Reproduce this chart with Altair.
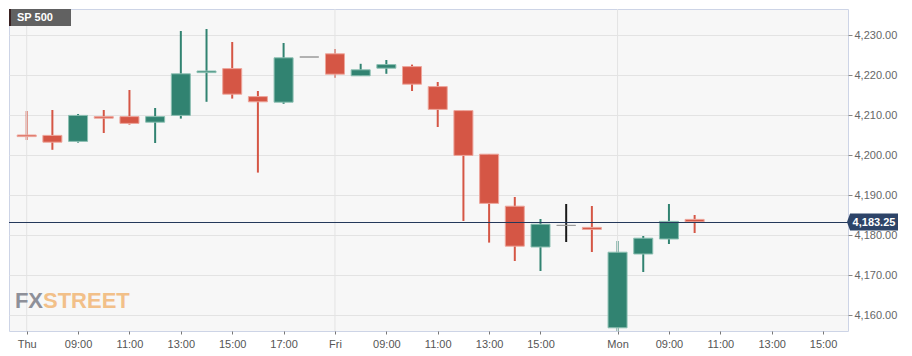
import altair as alt
import pandas as pd
import numpy as np

# ---- data (hourly candles, trading hours only) ----
opens  = [4237.25, 4205.0, 4204.9, 4203.4, 4209.6, 4209.6, 4208.2, 4209.9, 4220.6, 4221.6,
          4214.6, 4213.2, 4224.5, 4225.3, 4219.8, 4221.7, 4222.1, 4217.1, 4211.1, 4200.2,
          4187.2, 4177.0, 4182.4, 4181.9, 4156.8, 4175.25, 4179.0, 4183.9]
highs  = [4240.0, 4211.0, 4211.25, 4210.25, 4211.25, 4216.25, 4211.75, 4231.0, 4231.5, 4228.25,
          4216.0, 4228.0, 4224.5, 4226.5, 4222.8, 4223.75, 4222.6, 4218.25, 4211.1, 4200.2,
          4189.5, 4184.0, 4187.75, 4187.25, 4178.5, 4179.75, 4187.75, 4185.0]
lows   = [4228.0, 4203.75, 4201.3, 4203.1, 4205.5, 4207.6, 4203.0, 4209.1, 4213.3, 4214.1,
          4195.6, 4212.8, 4224.5, 4219.3, 4219.8, 4220.3, 4216.0, 4207.0, 4183.5, 4178.1,
          4173.5, 4171.0, 4178.25, 4175.75, 4156.0, 4170.75, 4177.75, 4180.5]
closes = [4233.5, 4204.6, 4203.2, 4209.9, 4209.2, 4207.9, 4209.6, 4220.3, 4221.0, 4215.2,
          4213.3, 4224.3, 4224.5, 4220.2, 4221.3, 4222.6, 4217.7, 4211.4, 4199.9, 4187.9,
          4177.2, 4182.7, 4182.4, 4181.4, 4175.7, 4179.2, 4183.4, 4183.3]
slots = list(range(len(opens)))

tick_pos    = [1, 3, 5, 7, 9, 11, 13, 15, 17, 19, 21, 24, 26, 28, 30, 32]
tick_labels = ["Thu", "09:00", "11:00", "13:00", "15:00", "17:00", "Fri", "09:00", "11:00",
               "13:00", "15:00", "Mon", "09:00", "11:00", "13:00", "15:00"]
day_starts  = [1, 13, 24]
y_ticks     = [4160, 4170, 4180, 4190, 4200, 4210, 4220, 4230]
last_price  = 4183.25
series_name = "SP 500"

GREEN, RED, FLAT = "#318371", "#d55645", "#1a1a1a"
GREEN_L, RED_L, FLAT_L = "#8cbfb2", "#eda59b", "#9a9a9a"
FONT = "Liberation Sans"

df = pd.DataFrame({"i": slots, "o": opens, "h": highs, "l": lows, "c": closes})
df["dir"] = np.where(df.c > df.o, "up", np.where(df.c < df.o, "down", "flat"))

W, H = 839, 322
xdom = [8 / 25.69, 847 / 25.69]
ydom = [4156, 4236.5]

label_expr = "".join(f"datum.value == {p} ? '{t}' : " for p, t in zip(tick_pos, tick_labels)) + "''"

xscale = alt.Scale(domain=xdom, nice=False, zero=False, padding=0)
yscale = alt.Scale(domain=ydom, nice=False, zero=False, padding=0)

x_axis = alt.Axis(values=tick_pos, labelExpr=label_expr, grid=False, domain=False,
                  tickColor="#777", tickSize=3, labelColor="#555", labelFontSize=11,
                  labelFont=FONT, labelPadding=4, labelFlush=False, labelOverlap=False, title=None)
y_axis = alt.Axis(orient="right", values=y_ticks, format=",.2f", grid=True, gridColor="#e3e3e3",
                  domain=False, tickColor="#888", tickSize=4, labelColor="#666", labelFontSize=11,
                  labelFont=FONT, labelPadding=2, title=None)


def X(field):
    return alt.X(field, scale=xscale, axis=x_axis)


def Y(field):
    return alt.Y(field, scale=yscale, axis=y_axis)


color = alt.Color("dir:N", scale=alt.Scale(domain=["up", "down", "flat"], range=[GREEN, RED, FLAT]), legend=None)
stroke = alt.Stroke("dir:N", scale=alt.Scale(domain=["up", "down", "flat"], range=[GREEN_L, RED_L, FLAT_L]), legend=None)

base = alt.Chart(df)

wicks = base.mark_rule(strokeWidth=2, clip=True).encode(
    x=X("i:Q"), y=Y("l:Q"), y2="h:Q", color=color,
)

bodies = base.mark_bar(width=19, strokeWidth=1, clip=True).encode(
    x=X("i:Q"), y=Y("o:Q"), y2="c:Q", color=color, stroke=stroke,
)

day_rules = alt.Chart(pd.DataFrame({"d": day_starts})).mark_rule(color="#e3e3e3", strokeWidth=1).encode(
    x=X("d:Q")
)

price_df = pd.DataFrame({"p": [last_price], "t": [f"{last_price:,.2f}"]})
price_line = alt.Chart(price_df).mark_rule(color="#24385a", strokeWidth=1, yOffset=0.5).encode(
    y=Y("p:Q")
)
badge = alt.Chart(price_df).mark_point(
    shape="M-1,0L-0.88,-0.333L1,-0.333L1,0.333L-0.88,0.333Z",
    filled=True, opacity=1, size=2601, color="#2d4468", strokeWidth=0,
).encode(x=alt.value(863.5), y=Y("p:Q"))
badge_text = alt.Chart(price_df).mark_text(
    color="white", fontWeight="bold", fontSize=11, font=FONT, align="center", baseline="middle", dy=0.5
).encode(x=alt.value(865), y=Y("p:Q"), text="t:N")

one = pd.DataFrame({"n": [series_name]})
label_box = alt.Chart(one).mark_rect(color="#5c5c5c", opacity=0.97).encode(
    x=alt.value(2), x2=alt.value(62), y=alt.value(0), y2=alt.value(17)
)
label_strip = alt.Chart(one).mark_rect(color="#3a2222").encode(
    x=alt.value(0), x2=alt.value(2), y=alt.value(0), y2=alt.value(17)
)
label_text = alt.Chart(one).mark_text(
    color="white", fontWeight="bold", fontSize=11, font=FONT, align="left", baseline="middle"
).encode(x=alt.value(8), y=alt.value(8.5), text="n:N")

wm = pd.DataFrame({"a": ["FX"], "b": ["STREET"]})
wm_fx = alt.Chart(wm).mark_text(
    color="#8e9099", fontWeight="bold", fontSize=22, font=FONT,
    align="right", baseline="alphabetic",
).encode(x=alt.value(34), y=alt.value(299), text="a:N")
wm_st = alt.Chart(wm).mark_text(
    color="#f2c089", fontWeight="bold", fontSize=22, font=FONT,
    align="left", baseline="alphabetic",
).encode(x=alt.value(34), y=alt.value(299), text="b:N")

chart = alt.layer(
    wicks, day_rules, wm_fx, wm_st, bodies, price_line, label_strip, label_box, label_text, badge, badge_text
).properties(
    width=W, height=H, padding=0, background="white"
).configure_view(
    fill="#f7f7f7", stroke="#cdd4e6", strokeWidth=1
)

chart.save("out.html", embed_options={"renderer": "svg", "actions": False})
